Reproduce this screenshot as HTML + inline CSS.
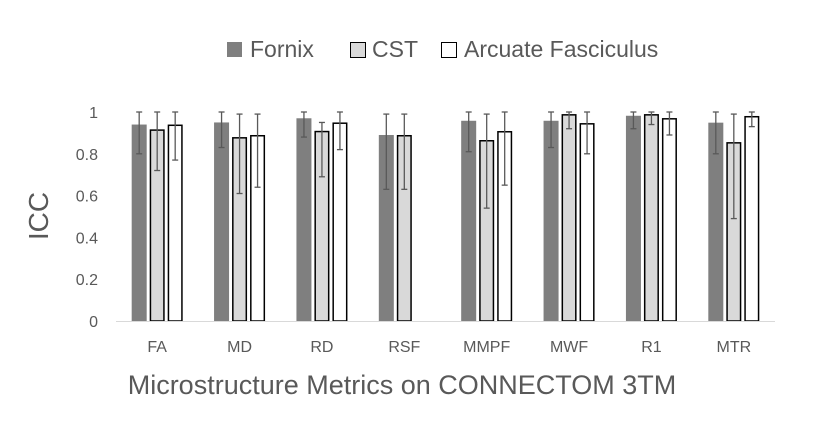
<!DOCTYPE html>
<html><head><meta charset="utf-8"><style>
body{margin:0;background:#fff;}
svg text{font-family:"Liberation Sans",sans-serif;fill:#595959;}
</style></head><body>
<svg id="chart" width="822" height="419" xmlns="http://www.w3.org/2000/svg">
<g>
 <rect x="227" y="42" width="15" height="15" fill="#7f7f7f"/>
 <text x="250" y="57" font-size="23">Fornix</text>
 <rect x="350.5" y="42.5" width="15" height="15" fill="#d9d9d9" stroke="#000" stroke-width="1"/>
 <text x="372" y="57" font-size="23">CST</text>
 <rect x="441.5" y="42.5" width="15" height="15" fill="#fff" stroke="#000" stroke-width="1"/>
 <text x="464" y="57" font-size="23">Arcuate Fasciculus</text>
</g>
<g id="yaxis"></g><g id="bars"></g><g id="xaxis"></g>
<text transform="translate(48,216) rotate(-90)" text-anchor="middle" font-size="28">ICC</text>
<text x="402" y="394" text-anchor="middle" font-size="27">Microstructure Metrics on CONNECTOM 3TM</text>
</svg>
<script>
const categories=["FA","MD","RD","RSF","MMPF","MWF","R1","MTR"];
const fornix=[0.94,0.95,0.97,0.89,0.958,0.958,0.982,0.949];
const fornixLo=[0.80,0.83,0.88,0.63,0.81,0.83,0.92,0.80];
const fornixHi=[1.0,1.0,1.0,0.99,1.0,1.0,1.0,1.0];
const cst=[0.917,0.88,0.91,0.89,0.866,0.99,0.99,0.856];
const cstLo=[0.72,0.61,0.69,0.63,0.54,0.92,0.94,0.49];
const cstHi=[1.0,0.99,0.95,0.99,0.99,1.0,1.0,0.99];
const arc=[0.94,0.89,0.95,null,0.909,0.947,0.971,0.981];
const arcLo=[0.77,0.64,0.82,null,0.65,0.80,0.89,0.93];
const arcHi=[1.0,0.99,1.0,null,1.0,1.0,1.0,1.0];
const yTicks=[0,0.2,0.4,0.6,0.8,1];
const yTickLabels=["0","0.2","0.4","0.6","0.8","1"];
const NS="http://www.w3.org/2000/svg";
const x0=116,x1=775,yBase=321,yTop=112;
const bw=(x1-x0)/categories.length;
function yS(v){return yBase-(yBase-yTop)*v;}
function xC(i){return x0+bw*(i+0.5);}
function mk(t,a,p){const e=document.createElementNS(NS,t);for(const k in a)e.setAttribute(k,a[k]);p.appendChild(e);return e;}
const ya=document.getElementById('yaxis'),bars=document.getElementById('bars'),xa=document.getElementById('xaxis');
yTicks.forEach((v,i)=>{const t=mk('text',{x:98,y:yS(v)+6,'text-anchor':'end','font-size':16},ya);t.textContent=yTickLabels[i];

});
const axis=mk('line',{x1:x0,x2:x1,y1:yBase+0.5,y2:yBase+0.5,stroke:'#d9d9d9','stroke-width':1},xa);


const series=[{v:fornix,lo:fornixLo,hi:fornixHi,fill:'#7f7f7f',stroke:'none',n:'fornix'},
{v:cst,lo:cstLo,hi:cstHi,fill:'#d9d9d9',stroke:'#000',n:'cst'},
{v:arc,lo:arcLo,hi:arcHi,fill:'#fff',stroke:'#000',n:'arcuate'}];
const w=15,gap=3;
categories.forEach((c,i)=>{
 const t=mk('text',{x:xC(i),y:352,'text-anchor':'middle','font-size':16},xa);t.textContent=c;
 
 
 series.forEach((s,j)=>{
  if(s.v[i]==null)return;
  const bx=xC(i)-w*1.5-gap+j*(w+gap);
  const top=yS(s.v[i]);
  const off=s.stroke==='none'?0:0.75;
  const r=mk('rect',{x:bx+off,y:top+off,width:w-2*off,height:yBase-top-off,fill:s.fill,stroke:s.stroke,'stroke-width':1.5},bars);
  
  
  const cx=bx+w/2,yh=yS(s.hi[i]),yl=yS(s.lo[i]);
  const g=mk('g',{stroke:'#595959','stroke-width':1.3},bars);
  
  
  mk('line',{x1:cx,x2:cx,y1:yh,y2:yl},g);
  mk('line',{x1:cx-3,x2:cx+3,y1:yh,y2:yh},g);
  mk('line',{x1:cx-3,x2:cx+3,y1:yl,y2:yl},g);
 });
});
</script>
</body></html>
